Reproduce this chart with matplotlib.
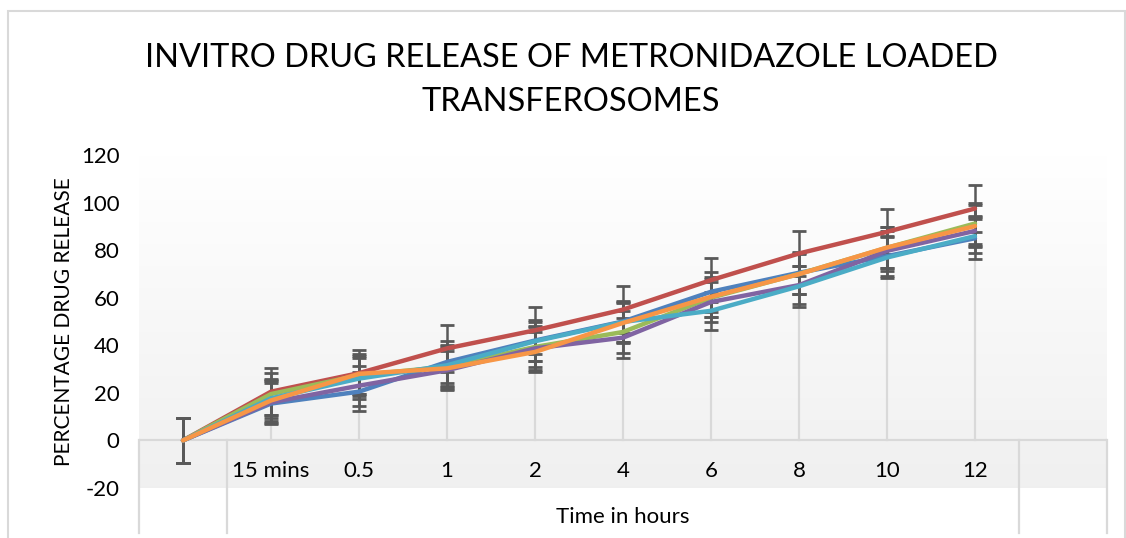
import numpy as np
import matplotlib
matplotlib.use("Agg")
import matplotlib.pyplot as plt
from matplotlib.lines import Line2D
from matplotlib.patches import Rectangle

plt.rcParams['font.family'] = ['Lato', 'DejaVu Sans']
plt.rcParams['axes.unicode_minus'] = False

# categories on the time axis (first one is the blank zero point)
cats = ["", "15 mins", "0.5", "1", "2", "4", "6", "8", "10", "12"]

blue = [0, 15.5, 20.5, 33.0, 42.0, 50.0, 62.5, 70.5, 77.5, 85.0]
red = [0, 20.5, 28.3, 38.7, 46.3, 55.0, 67.4, 78.6, 87.7, 97.5]
green = [0, 19.5, 27.4, 31.0, 39.3, 45.6, 60.0, 70.0, 81.0, 91.2]
purple = [0, 16.0, 23.0, 29.5, 38.7, 43.2, 58.2, 65.3, 79.7, 88.1]
cyan = [0, 17.7, 26.0, 31.6, 41.7, 49.8, 54.5, 64.8, 76.9, 85.9]
orange = [0, 16.8, 28.0, 30.3, 37.2, 49.4, 60.4, 69.9, 81.1, 90.1]

blue_err = [9.3, 8.5, 8.2, 9.0, 8.6, 8.8, 8.3, 8.9, 8.5, 8.9]
red_err = [9.3, 9.8, 9.6, 9.8, 9.8, 9.8, 9.2, 9.5, 9.4, 9.9]
green_err = [9.3, 8.7, 8.0, 8.5, 8.6, 8.7, 8.0, 8.6, 8.7, 8.7]
purple_err = [9.3, 8.8, 8.5, 8.1, 8.9, 8.4, 8.2, 8.0, 8.3, 6.4]
cyan_err = [9.3, 8.3, 8.6, 8.7, 8.2, 8.6, 8.1, 8.7, 8.8, 7.0]
orange_err = [9.3, 8.6, 8.4, 8.7, 8.4, 8.5, 8.3, 8.5, 8.6, 8.8]

series = [(blue, blue_err, '#4F81BD'), (red, red_err, '#C0504D'),
          (green, green_err, '#9BBB59'), (purple, purple_err, '#8064A2'),
          (cyan, cyan_err, '#4BACC6'), (orange, orange_err, '#F79646')]

W, H = 1126, 538
fig = plt.figure(figsize=(W / 100, H / 100), dpi=100)
ax = fig.add_axes([139 / W, 1 - 488 / H, (1107 - 139) / W, (488 - 155) / H])

x = np.arange(len(cats))
ax.set_xlim(-0.5, 10.5)
ax.set_ylim(-20, 120)

# plot area gradient: white at top to light grey at bottom
grad = np.linspace(1.0, 0.941, 256).reshape(-1, 1)
ax.imshow(np.dstack([grad, grad, grad]), extent=[0, 1, 0, 1], transform=ax.transAxes,
          aspect='auto', zorder=0)

# drop lines
tops = np.max([s[0] for s in series], axis=0)
for xi, t in zip(x[1:], tops[1:]):
    ax.plot([xi, xi], [0, t], color='#d9d9d9', lw=1.6, zorder=1)

# zero axis line
ax.axhline(0, color='#d9d9d9', lw=1.6, zorder=1)

for vals, err, col in series:
    ax.errorbar(x, vals, yerr=err, fmt='none', ecolor='#595959', elinewidth=1.8,
                capsize=5, capthick=2, zorder=2)
for vals, err, col in series:
    ax.plot(x, vals, color=col, lw=3.2, solid_capstyle='round', zorder=3)

for s in ax.spines.values():
    s.set_visible(False)
ax.set_xticks([])
ax.set_yticks([-20, 0, 20, 40, 60, 80, 100, 120])
ax.tick_params(axis='y', length=0, labelsize=16, pad=14, labelcolor='#000000')
ax.set_ylabel('PERCENTAGE DRUG RELEASE', fontsize=15, labelpad=5)

# multi level category axis
trans = ax.get_xaxis_transform()
to_ax = lambda py: (488 - py) / (488 - 155)
for xi, lab in zip(x, cats):
    ax.text(xi, to_ax(471), lab, transform=trans, ha='center', va='center', fontsize=16)
ax.text(5, to_ax(517), 'Time in hours', transform=trans, ha='center', va='center', fontsize=16)
for xb in [-0.5, 0.5, 9.5, 10.5]:
    ax.add_line(Line2D([xb, xb], [to_ax(440), to_ax(533)], transform=trans,
                       color='#d9d9d9', lw=1.6, clip_on=False))

fig.text(571 / W, 1 - 80 / H, 'INVITRO DRUG RELEASE OF METRONIDAZOLE LOADED\nTRANSFEROSOMES',
         ha='center', va='center', fontsize=23.4, linespacing=1.55)

# chart border
fig.patches.append(Rectangle((8 / W, -0.05), (1125 - 8) / W, 1.05 - 11 / H, transform=fig.transFigure,
                             fill=False, edgecolor='#d9d9d9', lw=1.5))

fig.savefig('out.png', dpi=100)
